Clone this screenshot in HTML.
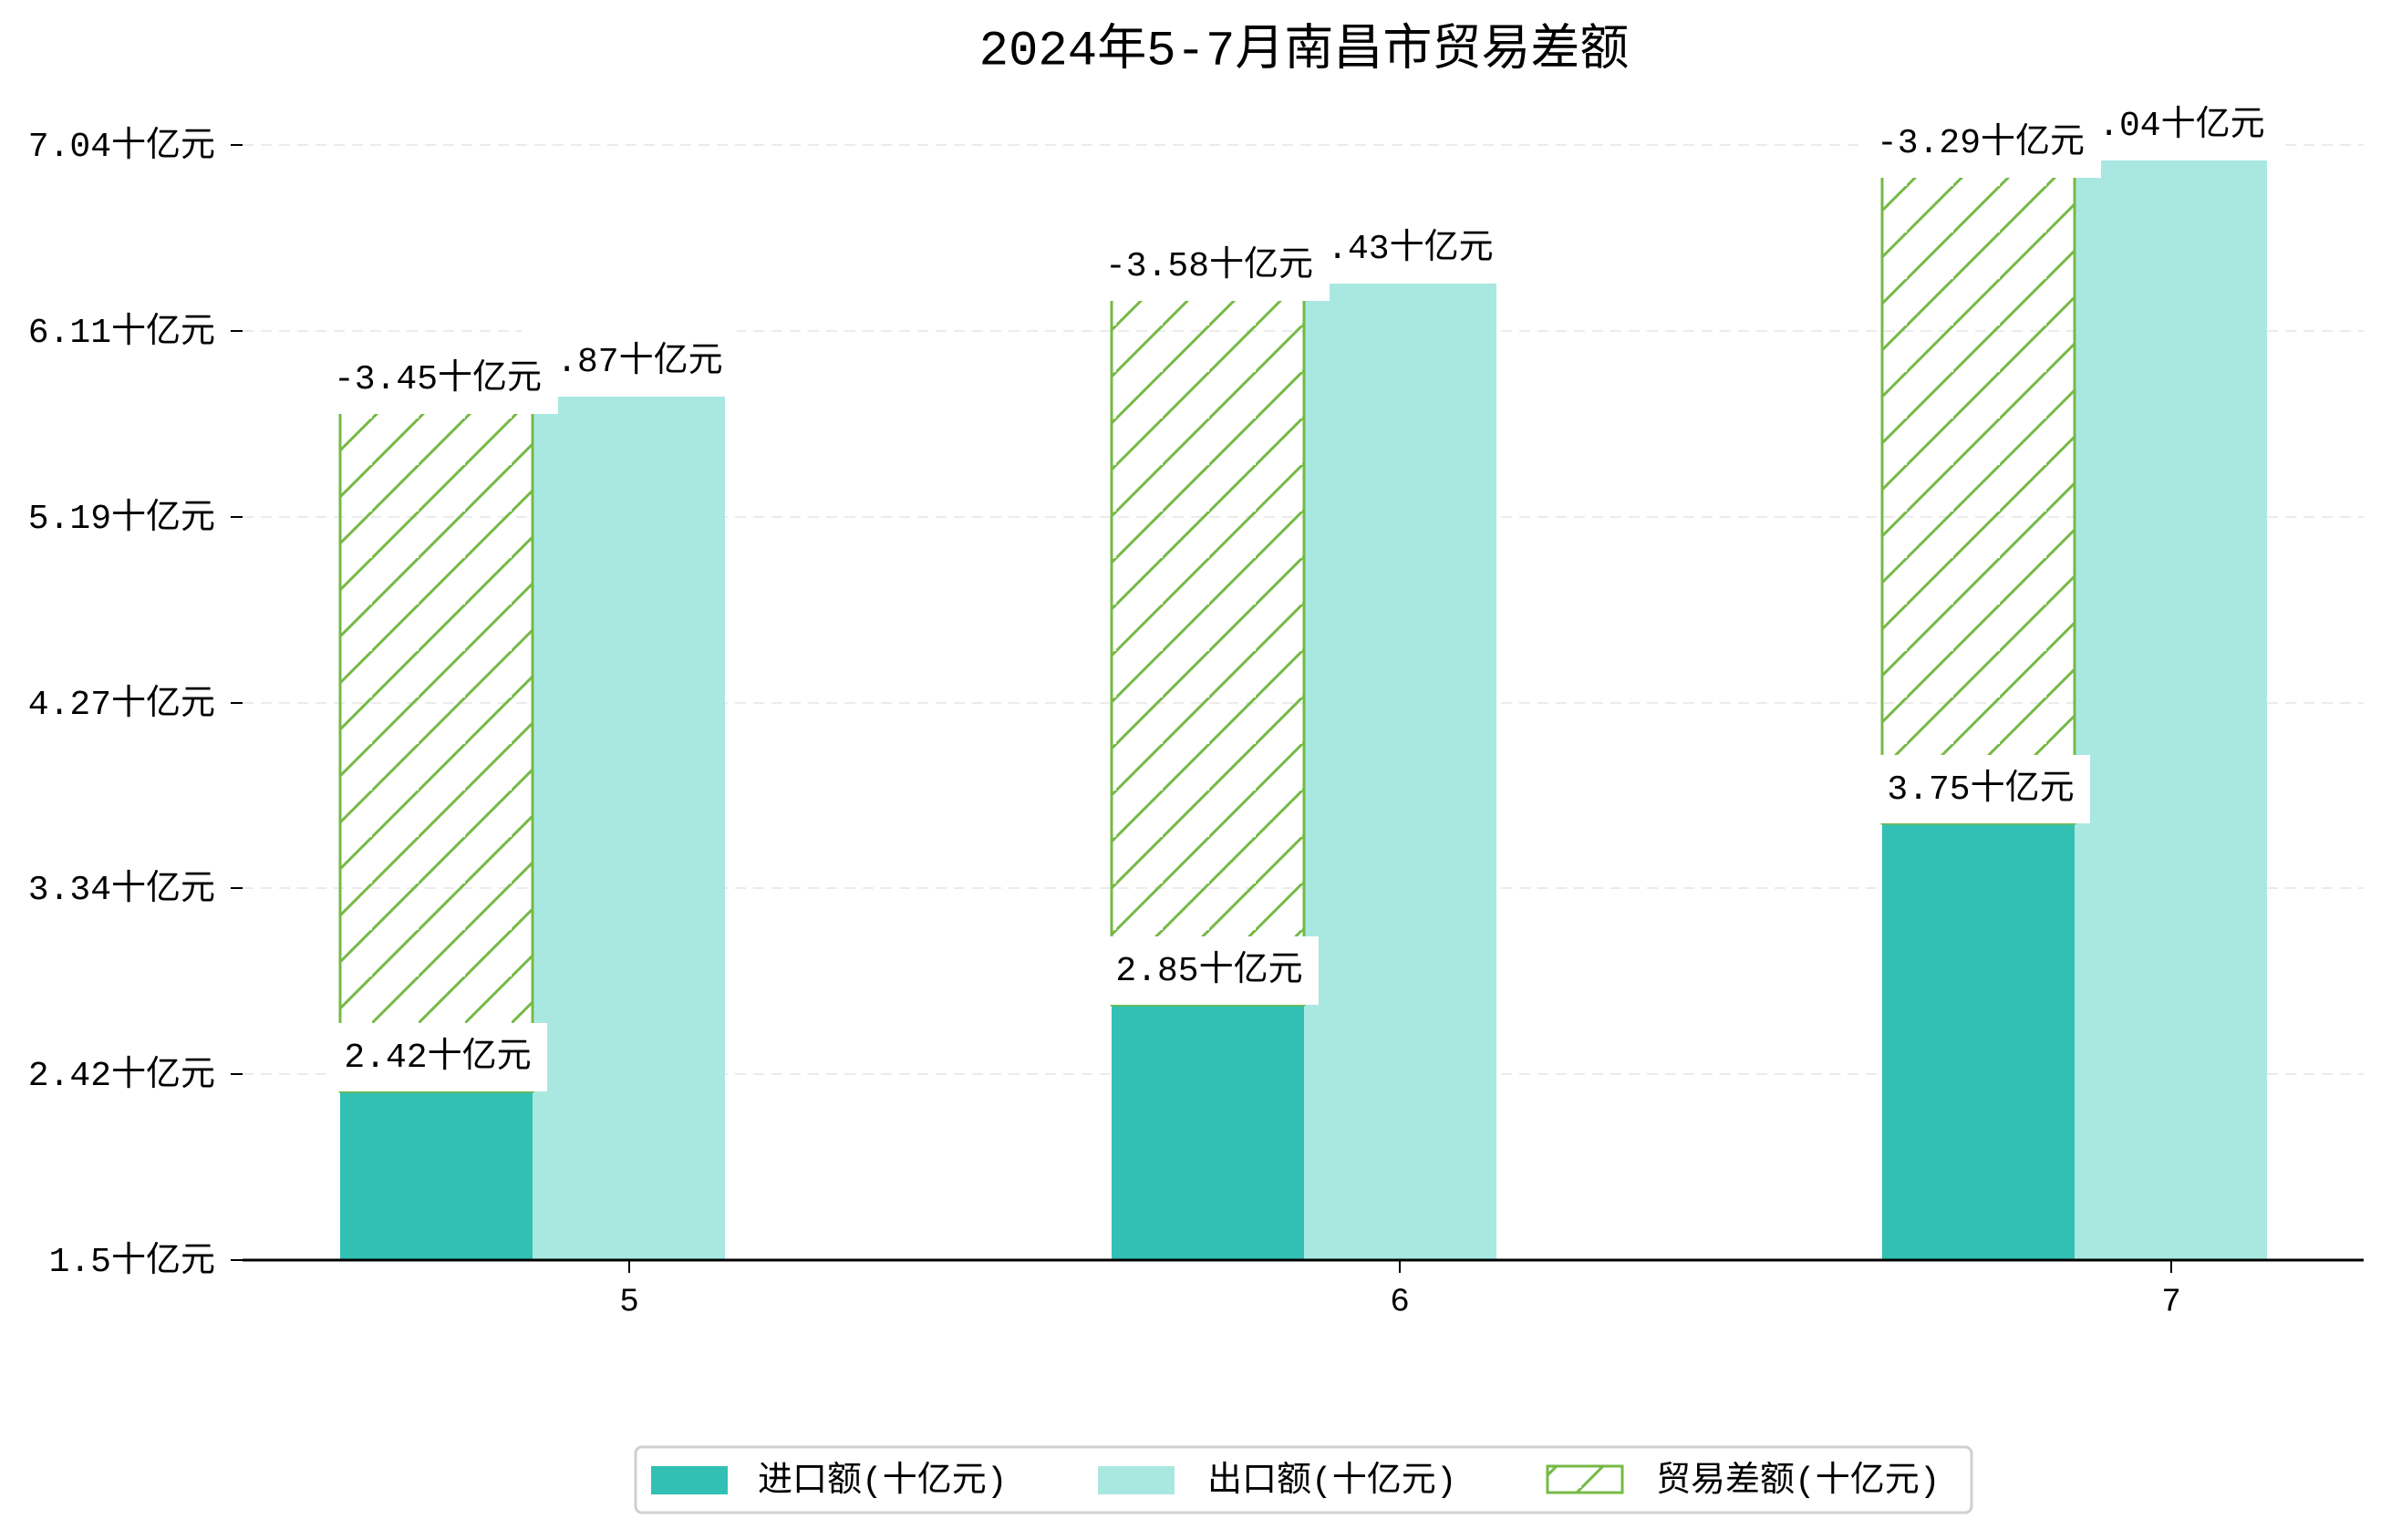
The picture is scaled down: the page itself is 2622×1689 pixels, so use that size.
<!DOCTYPE html>
<html><head><meta charset="utf-8"><style>
html,body{margin:0;padding:0;background:#fff}
svg{display:block}
text{font-family:"Liberation Mono","Noto Sans CJK SC",monospace;fill:#000}
</style></head><body>
<svg width="2622" height="1689" viewBox="0 0 2622 1689" xmlns="http://www.w3.org/2000/svg">
<defs>
<pattern id="h" patternUnits="userSpaceOnUse" width="51" height="51">
<path d="M-5,56 L56,-5 M-56,56 L5,-5 M46,107 L107,46" stroke="#76b947" stroke-width="3" fill="none"/>
</pattern>
</defs>
<text x="1430" y="56" font-size="54" text-anchor="middle" dominant-baseline="middle">2024年5-7月南昌市贸易差额</text>
<g stroke="#ebebeb" stroke-width="2" stroke-dasharray="12,8">
<line x1="266" x2="2592" y1="159" y2="159"/><line x1="266" x2="2592" y1="363" y2="363"/>
<line x1="266" x2="2592" y1="567" y2="567"/><line x1="266" x2="2592" y1="771" y2="771"/>
<line x1="266" x2="2592" y1="974" y2="974"/><line x1="266" x2="2592" y1="1178" y2="1178"/>
</g>
<g stroke="#000" stroke-width="2">
<line x1="253" x2="266" y1="159" y2="159"/><line x1="253" x2="266" y1="363" y2="363"/>
<line x1="253" x2="266" y1="567" y2="567"/><line x1="253" x2="266" y1="771" y2="771"/>
<line x1="253" x2="266" y1="974" y2="974"/><line x1="253" x2="266" y1="1178" y2="1178"/>
<line x1="253" x2="266" y1="1382" y2="1382"/>
<line x1="690" x2="690" y1="1382" y2="1396"/><line x1="1535" x2="1535" y1="1382" y2="1396"/><line x1="2381" x2="2381" y1="1382" y2="1396"/>
</g>
<g font-size="38" text-anchor="end" dominant-baseline="middle">
<text x="236" y="161">7.04十亿元</text><text x="236" y="365">6.11十亿元</text>
<text x="236" y="569">5.19十亿元</text><text x="236" y="773">4.27十亿元</text>
<text x="236" y="976">3.34十亿元</text><text x="236" y="1180">2.42十亿元</text>
<text x="236" y="1384">1.5十亿元</text>
</g>
<g font-size="36" text-anchor="middle" dominant-baseline="middle">
<text x="690" y="1428">5</text><text x="1535" y="1428">6</text><text x="2381" y="1428">7</text>
</g>
<rect x="373" y="1197" width="211" height="185" fill="#31c0b3"/>
<rect x="584" y="435" width="211" height="947" fill="#a9e8e1"/>
<rect x="373" y="435" width="211" height="762" fill="url(#h)" stroke="#76b947" stroke-width="3"/>
<rect x="1219" y="1102" width="211" height="280" fill="#31c0b3"/>
<rect x="1430" y="311" width="211" height="1071" fill="#a9e8e1"/>
<rect x="1219" y="311" width="211" height="791" fill="url(#h)" stroke="#76b947" stroke-width="3"/>
<rect x="2064" y="903" width="211" height="479" fill="#31c0b3"/>
<rect x="2275" y="176" width="211" height="1206" fill="#a9e8e1"/>
<rect x="2064" y="176" width="211" height="727" fill="url(#h)" stroke="#76b947" stroke-width="3"/>
<line x1="266" x2="2592" y1="1382" y2="1382" stroke="#000" stroke-width="3"/>
<g font-size="38" text-anchor="middle" dominant-baseline="middle">
<rect x="364" y="1122" width="236" height="75" fill="#fff"/><text x="480" y="1160">2.42十亿元</text>
<rect x="1210" y="1027" width="236" height="75" fill="#fff"/><text x="1326" y="1065">2.85十亿元</text>
<rect x="2056" y="828" width="236" height="75" fill="#fff"/><text x="2172" y="866">3.75十亿元</text>
<rect x="572" y="358" width="236" height="77" fill="#fff"/><text x="690" y="397">5.87十亿元</text>
<rect x="354" y="377" width="258" height="77" fill="#fff"/><text x="480" y="416">-3.45十亿元</text>
<rect x="1417" y="234" width="236" height="77" fill="#fff"/><text x="1535" y="273">6.43十亿元</text>
<rect x="1200" y="253" width="258" height="77" fill="#fff"/><text x="1326" y="292">-3.58十亿元</text>
<rect x="2263" y="99" width="236" height="77" fill="#fff"/><text x="2381" y="138">7.04十亿元</text>
<rect x="2046" y="118" width="258" height="77" fill="#fff"/><text x="2172" y="157">-3.29十亿元</text>
</g>
<rect x="697" y="1587" width="1465" height="72" rx="7" fill="#fff" stroke="#d0d0d0" stroke-width="3"/>
<rect x="714" y="1608" width="84" height="31" fill="#31c0b3"/>
<rect x="1204" y="1608" width="84" height="31" fill="#a9e8e1"/>
<rect x="1697" y="1608" width="82" height="29" fill="url(#h)" stroke="#76b947" stroke-width="3"/>
<g font-size="38" dominant-baseline="middle">
<text x="831" y="1625">进口额(十亿元)</text>
<text x="1324" y="1625">出口额(十亿元)</text>
<text x="1816" y="1625">贸易差额(十亿元)</text>
</g>
</svg>
</body></html>
